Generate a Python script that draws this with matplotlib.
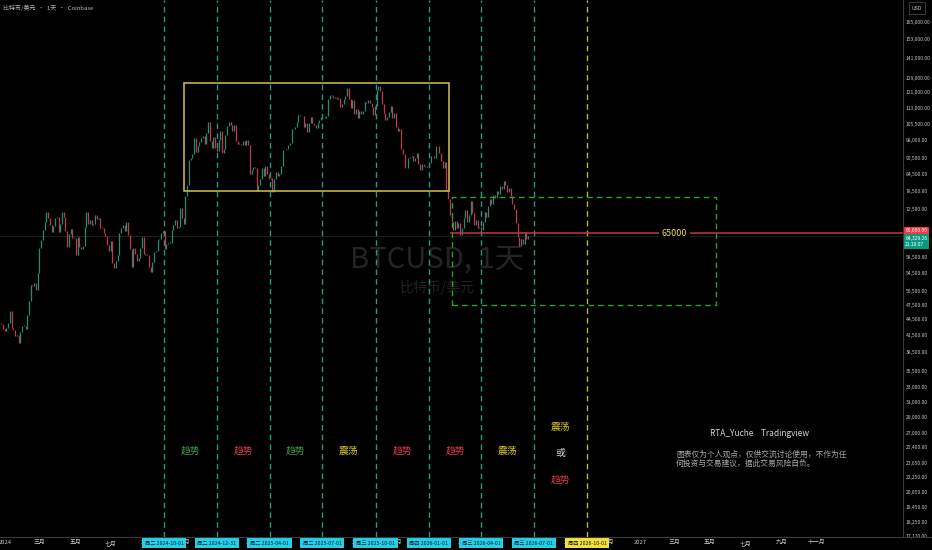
import numpy as np
import matplotlib
matplotlib.use('Agg')
import matplotlib.pyplot as plt
import matplotlib.dates as mdates
from matplotlib.patches import Rectangle
from matplotlib.ticker import FixedLocator, NullLocator, FuncFormatter
from matplotlib.transforms import blended_transform_factory

plt.rcParams['font.family'] = ['Noto Sans CJK SC', 'DejaVu Sans']

# 收盘价 (千美元)，每 3 天一根，自 2023-12-22 起
start_date = np.datetime64('2023-12-22')
step_days = 3
closes_k = [
    43.9, 43.6, 42.6, 42.3, 42.8, 43.9, 46.1, 42.8, 42.5, 41.3, 41.6, 40.1,
    42.1, 43.3, 43.2, 42.7, 45.3, 48.3, 51.8, 51.6, 52.3, 50.7, 54.5, 61.1,
    63.1, 66.1, 68.3, 71.5, 69.5, 67.6, 65.5, 67.2, 69.5, 69.9, 65.5, 67.8,
    71.6, 70.0, 65.7, 61.3, 64.9, 66.4, 63.8, 63.8, 59.1, 64.0, 61.2, 60.8,
    61.6, 67.0, 71.4, 67.9, 69.0, 67.6, 67.8, 70.6, 69.3, 69.6, 66.7, 66.6,
    65.0, 64.3, 61.8, 60.3, 62.8, 57.0, 55.8, 57.7, 59.2, 65.1, 66.7, 67.6,
    65.8, 68.3, 64.6, 60.7, 56.0, 60.9, 59.3, 57.5, 58.4, 61.1, 64.1, 59.4,
    59.1, 59.1, 56.2, 54.8, 57.3, 60.0, 60.3, 63.2, 63.3, 65.2, 65.6, 60.8,
    62.1, 62.2, 62.4, 66.0, 67.4, 69.0, 66.7, 67.0, 72.7, 69.5, 67.8, 76.5,
    80.5, 90.0, 90.6, 92.3, 98.9, 93.0, 95.6, 97.2, 98.8, 99.9, 96.6, 101.4,
    106.0, 97.5, 94.9, 99.4, 94.6, 93.4, 98.1, 102.1, 92.5, 94.5, 100.5, 104.4,
    106.1, 104.8, 102.1, 104.7, 97.7, 96.6, 96.5, 95.8, 97.5, 95.8, 98.3, 96.1,
    84.3, 86.0, 87.2, 86.8, 78.5, 80.5, 82.6, 86.8, 83.8, 87.4, 84.3, 82.5,
    83.1, 78.2, 82.6, 85.3, 83.6, 84.4, 87.4, 93.9, 93.7, 94.2, 95.9, 96.8,
    102.9, 102.8, 103.7, 106.4, 109.6, 108.9, 108.9, 104.0, 105.8, 101.5, 105.7, 108.6,
    105.6, 104.6, 103.3, 105.6, 107.1, 108.4, 108.8, 108.2, 108.9, 117.5, 119.8, 119.3,
    117.9, 118.8, 117.6, 117.9, 113.3, 115.0, 117.4, 119.3, 123.3, 117.4, 112.9, 116.9,
    110.1, 112.5, 108.2, 111.7, 110.2, 111.4, 116.0, 115.4, 117.1, 115.3, 113.3, 109.6,
    114.0, 122.2, 124.7, 121.7, 115.2, 110.7, 107.2, 108.4, 111.0, 114.1, 108.3, 110.6,
    103.9, 102.3, 103.0, 94.5, 92.2, 86.6, 86.8, 90.5, 90.9, 91.3, 89.4, 90.6,
    92.5, 88.2, 86.1, 88.1, 87.5, 87.3, 87.2, 88.7, 91.4, 91.3, 90.5, 95.4,
    95.5, 92.6, 89.5, 86.6, 89.2, 78.6, 75.8, 70.5, 68.5, 66.0, 68.8, 66.5,
    68.0, 64.5, 66.5, 69.5, 72.0, 68.5, 70.5, 75.0, 71.0, 67.5, 69.0, 66.5,
    67.0, 66.0, 68.5, 71.5, 70.0, 73.5, 75.5, 74.0, 77.0, 76.0, 78.5, 77.5,
    80.0, 79.0, 82.0, 80.5, 78.0, 79.5, 76.5, 74.0, 72.5, 68.0, 64.0, 61.5,
    63.5, 62.0, 65.5, 63.5, 64.3,
]
last_price = 64329.26
key_level = 65000

# 竖线日期
line_dates = ['2024-10-01', '2024-12-31', '2025-04-01', '2025-07-01', '2025-10-01',
              '2026-01-01', '2026-04-01', '2026-07-01', '2026-10-01']
line_weekdays = ['周二', '周二', '周二', '周二', '周三', '周四', '周三', '周三', '周四']

# 每个区间的判断
phase_texts = ['趋势', '趋势', '趋势', '震荡', '趋势', '趋势', '震荡']
phase_colors = ['#3f9a48', '#e0364e', '#3f9a48', '#d8ca36', '#e0364e', '#e0364e', '#d8ca36']

# 矩形框
range_box = ('2024-11-04', '2026-02-05', 78400, 126100)
future_box = ('2026-02-10', '2027-05-11', 47400, 76300)
level_start = '2026-02-06'
level_label_date = '2027-03-01'

ytick_values = [165000, 153000, 141000, 129000, 121000, 113000, 105500, 98000, 90500,
                84500, 78500, 72500, 58500, 54500, 50500, 47500, 44500, 41500, 38500,
                35500, 33000, 31000, 29000, 27000, 25400, 23650, 22250, 20850, 19450,
                18250, 17170]

month_names = {1: '', 3: '三月', 5: '五月', 7: '七月', 9: '九月', 11: '十一月'}

# ---- 画布 ----
fig = plt.figure(figsize=(9.32, 5.5), dpi=100, facecolor='black')
ax = fig.add_axes([0, 13 / 550, 903 / 932, 537 / 550])
ax.set_facecolor('black')
for s in ax.spines.values():
    s.set_visible(False)

dates = start_date + np.arange(len(closes_k)) * np.timedelta64(step_days, 'D')
xd = mdates.date2num(dates.astype('datetime64[D]').astype(object))
closes = np.array(closes_k) * 1000
opens = np.concatenate([[closes[0]], closes[:-1]])
cols = np.where(closes >= opens, '#1f8f76', '#c23a4c')
lo = np.minimum(opens, closes)
hi = np.maximum(opens, closes)
hi = np.where(hi - lo < 300, lo + 300, hi)
ax.axhline(last_price, color='#1e1e1e', lw=0.7, zorder=1)
ax.vlines(xd, lo, hi, colors=cols, lw=0.9, zorder=3)

ax.set_yscale('log')
ax.set_ylim(17070, 181800)
ax.set_xlim(mdates.datestr2num('2023-12-23'), mdates.datestr2num('2028-03-29'))


def d2n(s):
    return mdates.datestr2num(s)


trans = blended_transform_factory(ax.transData, ax.transAxes)
trans_y = blended_transform_factory(ax.transAxes, ax.transData)

# 竖线
for i, d in enumerate(line_dates):
    c = '#1e9c86' if i < len(line_dates) - 1 else '#b8b83c'
    ax.axvline(d2n(d), color=c, lw=1.0, ls=(0, (4, 3)), zorder=2)

# 区间文字
for i, (t, c) in enumerate(zip(phase_texts, phase_colors)):
    mid = (d2n(line_dates[i]) + d2n(line_dates[i + 1])) / 2
    ax.text(mid, 0.16, t, color=c, fontsize=7, ha='center', va='center', transform=trans)
mid = (d2n(line_dates[7]) + d2n(line_dates[8])) / 2
ax.text(mid, 0.205, '震荡', color='#d8ca36', fontsize=7, ha='center', va='center', transform=trans)
ax.text(mid, 0.157, '或', color='#dddddd', fontsize=7, ha='center', va='center', transform=trans)
ax.text(mid, 0.106, '趋势', color='#e0364e', fontsize=7, ha='center', va='center', transform=trans)

# 矩形
x0, x1, y0, y1 = range_box
ax.add_patch(Rectangle((d2n(x0), y0), d2n(x1) - d2n(x0), y1 - y0, fill=False,
                       edgecolor='#d6c24e', lw=1.1, zorder=4))
x0, x1, y0, y1 = future_box
ax.add_patch(Rectangle((d2n(x0), y0), d2n(x1) - d2n(x0), y1 - y0, fill=False,
                       edgecolor='#22a82c', lw=1.0, ls=(0, (4, 3)), zorder=4))

# 65000 水平线
ax.hlines(key_level, d2n(level_start), ax.get_xlim()[1], color='#c8323f', lw=1.1, zorder=5)
ax.text(d2n(level_label_date), key_level, str(key_level), color='#ecd84e', fontsize=6.5,
        ha='center', va='center', zorder=6,
        bbox=dict(boxstyle='square,pad=0.3', fc='black', ec='none'))

# 水印
ax.text(0.484, 0.517, 'BTCUSD, 1天', transform=ax.transAxes, color='#242424', fontsize=21,
        ha='center', va='center', zorder=0)
ax.text(0.484, 0.464, '比特币/美元', transform=ax.transAxes, color='#222222', fontsize=10,
        ha='center', va='center', zorder=0)

# x 轴
ax.xaxis.set_major_locator(FixedLocator(
    mdates.date2num(mdates.rrulewrapper(mdates.MONTHLY, bymonth=[1, 3, 5, 7, 9, 11],
                                        dtstart=mdates.num2date(d2n('2024-01-01')),
                                        until=mdates.num2date(d2n('2027-11-30'))).between(
        mdates.num2date(d2n('2024-01-01')), mdates.num2date(d2n('2027-11-30')), inc=True))))
ax.xaxis.set_major_formatter(FuncFormatter(
    lambda v, p: (str(mdates.num2date(v).year) if mdates.num2date(v).month == 1
                  else month_names[mdates.num2date(v).month])))
ax.tick_params(axis='x', length=0, pad=2.2, labelsize=4.2, labelcolor='#c8c8c8')

# 竖线日期标签
for i, (d, w) in enumerate(zip(line_dates, line_weekdays)):
    fc = '#22d0ea' if i < len(line_dates) - 1 else '#f5e03a'
    ax.text(d2n(d), -0.0112, f'{w} {d}', transform=trans, fontsize=3.8, color='#101820',
            ha='center', va='center', zorder=10, clip_on=False,
            bbox=dict(boxstyle='square,pad=0.5', fc=fc, ec='none'))

# y 轴
ax.yaxis.tick_right()
ax.yaxis.set_major_locator(FixedLocator(ytick_values))
ax.yaxis.set_minor_locator(NullLocator())
ax.yaxis.set_major_formatter(FuncFormatter(lambda v, p: f'{v:,.2f}'))
ax.tick_params(axis='y', length=0, pad=2.2, labelsize=3.6, labelcolor='#c8c8c8')

# 右侧价格标签
ax.text(1.0025, key_level, f'{key_level:,.2f}', transform=trans_y, fontsize=3.6, color='white',
        ha='left', va='bottom', clip_on=False, zorder=10,
        bbox=dict(boxstyle='square,pad=0.3', fc='#f23645', ec='none'))
ax.text(1.0025, last_price, f'{last_price:,.2f}\n21:10:07', transform=trans_y, fontsize=3.6,
        color='white', ha='left', va='top', clip_on=False, zorder=10, linespacing=1.3,
        bbox=dict(boxstyle='square,pad=0.3', fc='#089981', ec='none'))

# 边线
fig.add_artist(plt.Line2D([903 / 932, 903 / 932], [13 / 550, 1], color='#3a3a3a', lw=0.8))
fig.add_artist(plt.Line2D([0, 1], [13 / 550, 13 / 550], color='#3a3a3a', lw=0.8))

fig.text(917 / 932, 1 - 8 / 550, 'USD', fontsize=3.8, color='#c8c8c8', ha='center', va='center',
         bbox=dict(boxstyle='square,pad=0.6', fc='black', ec='#444444', lw=0.6))
fig.text(3 / 932, 1 - 8 / 550, '比特币/美元  •  1天  •  Coinbase', fontsize=4.3, color='#b8b8b8',
         ha='left', va='center')

# 作者信息
fig.text(760 / 932, 1 - 433 / 550, 'RTA_Yuche    Tradingview', fontsize=6, color='#d6d6d6',
         ha='center', va='center')
fig.text(676 / 932, 1 - 451 / 550, '图表仅为个人观点，仅供交流讨论使用，不作为任\n何投资与交易建议，据此交易风险自负。',
         fontsize=5.6, color='#a8a8a8', ha='left', va='top', linespacing=1.05)

fig.savefig('out.png', dpi=100, facecolor='black')
